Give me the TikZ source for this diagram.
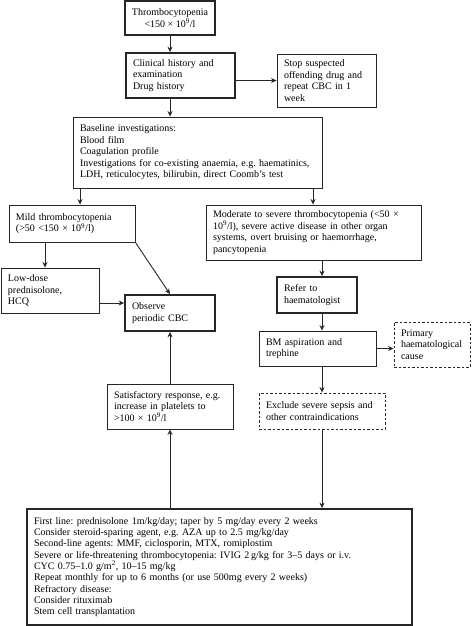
\documentclass[tikz,border=0pt]{standalone}
\usepackage{fontspec}
\setmainfont{Liberation Serif}
\frenchspacing
\usetikzlibrary{arrows.meta}
\begin{document}
\begin{tikzpicture}[x=1pt,y=-1pt,
 box/.style={draw=black!85, line width=0.9pt, rectangle, inner xsep=7pt, inner ysep=1pt, align=left, font=\fontsize{10}{11.5}\selectfont\frenchspacing},
 thickbox/.style={box, line width=1.8pt},
 dashbox/.style={box, dash pattern=on 2.5pt off 2pt},
 arr/.style={-{Stealth[length=5.5pt,width=5pt]}, line width=0.9pt, draw=black!85},
 ln/.style={line width=0.9pt, draw=black!85}]
\useasboundingbox (0,0) rectangle (474,626);
\fill[white] (0,0) rectangle (474,626);

\node[thickbox, align=center, minimum width=88pt, minimum height=34pt] (thr) at (170,18) {Thrombocytopenia\\<150 × 10\textsuperscript{9}/l};
\node[thickbox, text width=95pt, minimum height=45pt] (cli) at (180.5,75.5) {Clinical history and\\examination\\Drug history};
\node[box, text width=85pt, minimum height=53pt] (stop) at (326.5,80.5) {Stop suspected\\offending drug and\\repeat CBC in 1\\week};
\node[box, text width=235pt, minimum height=71pt] (base) at (197.5,152.5) {Baseline investigations:\\Blood film\\Coagulation profile\\Investigations for co-existing anaemia, e.g. haematinics,\\LDH, reticulocytes, bilirubin, direct Coomb’s test};
\node[box, text width=112pt, minimum height=37pt] (mild) at (72,223.5) {Mild thrombocytopenia\\(>50 <150 × 10\textsuperscript{9}/l)};
\node[box, text width=201pt, minimum height=55pt] (mod) at (313.5,232.5) {Moderate to severe thrombocytopenia (<50 ×\\10\textsuperscript{9}/l), severe active disease in other organ\\systems, overt bruising or haemorrhage,\\pancytopenia};
\node[box, text width=84pt, minimum height=45pt] (low) at (50,290.5) {Low-dose\\prednisolone,\\HCQ};
\node[thickbox, text width=76pt, minimum height=36pt] (obs) at (170,313) {Observe\\periodic CBC};
\node[thickbox, text width=66pt, minimum height=36pt] (ref) at (317,295) {Refer to\\haematologist};
\node[box, text width=103pt, minimum height=35pt] (bm) at (317.5,348.5) {BM aspiration and\\trephine};
\node[dashbox, text width=62pt, minimum height=45pt] (pri) at (432,344.5) {Primary\\haematological\\cause};
\node[box, text width=112pt, minimum height=45pt] (sat) at (170,406.5) {Satisfactory response, e.g.\\increase in platelets to\\>100 × 10\textsuperscript{9}/l};
\node[dashbox, text width=112pt, minimum height=36pt] (exc) at (322,411) {Exclude severe sepsis and\\other contraindications};
\node[thickbox, text width=371pt, minimum height=116pt, font=\fontsize{10}{11.3}\selectfont\frenchspacing] (fl) at (219.5,567) {First line: prednisolone 1m/kg/day; taper by 5 mg/day every 2 weeks\\Consider steroid-sparing agent, e.g. AZA up to 2.5 mg/kg/day\\Second-line agents: MMF, ciclosporin, MTX, romiplostim\\Severe or life-threatening thrombocytopenia: IVIG 2\,g/kg for 3–5 days or i.v.\\CYC 0.75–1.0 g/m\textsuperscript{2}, 10–15 mg/kg\\Repeat monthly for up to 6 months (or use 500mg every 2 weeks)\\Refractory disease:\\Consider rituximab\\Stem cell transplantation};

\coordinate (xC) at (170,0);
\coordinate (xL) at (80,0);
\coordinate (xLL) at (45,0);
\coordinate (xR) at (313,0);
\coordinate (xM) at (322,0);
\coordinate (yA) at (0,303);

\draw[arr] (thr.south) -- (thr.south |- cli.north);
\draw[arr] (cli.east |- stop.west) -- (stop.west);
\draw[arr] (cli.south -| xC) -- (base.north -| xC);
\draw[arr] (base.south -| xL) -- (mild.north -| xL);
\draw[arr] (base.south -| xR) -- (mod.north -| xR);
\draw[arr] (mild.south -| xLL) -- (low.north -| xLL);
\draw[arr] (mild.south east) -- (obs.north);
\draw[arr] (low.east |- yA) -- (obs.west |- yA);
\draw[arr] (mod.south -| xM) -- (ref.north -| xM);
\draw[arr] (ref.south -| xM) -- (bm.north -| xM);
\draw[arr] (bm.east) -- (bm.east -| pri.west);
\draw[arr] (bm.south -| xM) -- (exc.north -| xM);
\draw[arr] (exc.south -| xM) -- (fl.north -| xM);
\draw[arr] (sat.north) -- (obs.south);
\draw[arr] (fl.north -| xC) -- (sat.south);
\end{tikzpicture}
\end{document}
